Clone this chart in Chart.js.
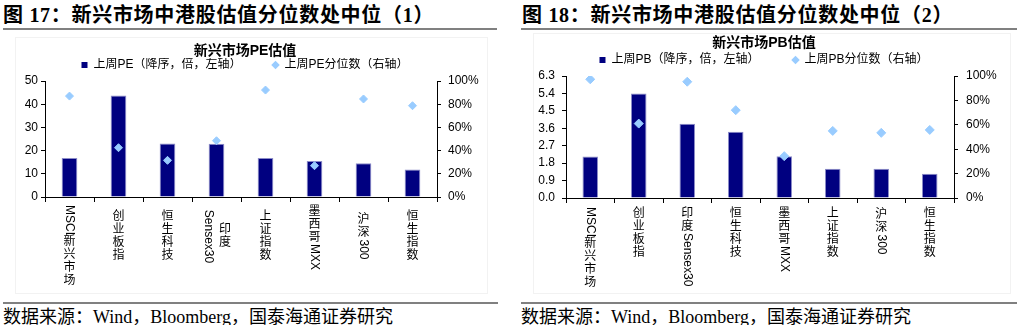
<!DOCTYPE html>
<html>
<head>
<meta charset="utf-8">
<script src="https://cdn.jsdelivr.net/npm/chart.js@4.4.1/dist/chart.umd.min.js"></script>
<style>
  body { margin: 0; width: 1017px; height: 325px; background: #fff; position: relative; overflow: hidden;
         font-family: "Liberation Serif", "Noto Sans CJK SC", serif; color: #000; }
  .hd { position: absolute; top: 2px; font-size: 20px; font-weight: bold; letter-spacing: 0.7px; white-space: nowrap; line-height: 26px; }
  .rule { position: absolute; height: 2px; background: #808080; }
  .src { position: absolute; top: 305px; font-size: 18px; white-space: nowrap; line-height: 24px; }
  .frame { position: absolute; border: 1px solid #f2f2f2; }
  canvas { position: absolute; }
</style>
</head>
<body>
<div class="hd" style="left:3px">图 17：新兴市场中港股估值分位数处中位（1）</div>
<div class="hd" style="left:522px">图 18：新兴市场中港股估值分位数处中位（2）</div>
<div class="rule" style="left:3px;width:494px;top:28px"></div>
<div class="rule" style="left:521px;width:496px;top:28px"></div>
<div class="frame" style="left:15px;top:37px;width:471px;height:255px"></div>
<div class="frame" style="left:533px;top:33px;width:476px;height:259px"></div>
<canvas id="peChart" width="480" height="258" style="left:5px;top:35px"></canvas>
<canvas id="pbChart" width="472" height="263" style="left:528px;top:30px"></canvas>
<div class="rule" style="left:3px;width:495px;top:302px"></div>
<div class="rule" style="left:521px;width:496px;top:302px"></div>
<div class="src" style="left:3px">数据来源：Wind，Bloomberg，国泰海通证券研究</div>
<div class="src" style="left:521px">数据来源：Wind，Bloomberg，国泰海通证券研究</div>

<script>
// PE chart (left)
const peLabels = ["MSCI新兴市场", "创业板指", "恒生科技", ["印度", "Sensex30"], "上证指数", "墨西哥MXX", "沪深300", "恒生指数"];
const peValues = [16.8, 43.7, 23.1, 23.0, 16.8, 15.5, 14.5, 11.9];
const pePct = [87.0, 42.5, 31.6, 48.5, 92.2, 27.0, 84.5, 78.7];
const peTicks = [0, 10, 20, 30, 40, 50];

// PB chart (right)
const pbLabels = ["MSCI新兴市场", "创业板指", "印度Sensex30", "恒生科技", "墨西哥MXX", "上证指数", "沪深300", "恒生指数"];
const pbValues = [2.14, 5.39, 3.83, 3.42, 2.16, 1.51, 1.51, 1.25];
const pbPct = [97.3, 61.0, 95.3, 72.0, 34.3, 55.0, 53.4, 55.8];
const pbTicks = [0, 0.9, 1.8, 2.7, 3.6, 4.5, 5.4, 6.3];

const pctTicks = [0, 20, 40, 60, 80, 100];

const FONT = '"Liberation Sans", "Noto Sans CJK SC", sans-serif';
const BAR_COLOR = "#000080";
const DOT_COLOR = "#99CCFF";

// vertical category labels: CJK upright, latin turned clockwise
const isCJK = (s) => /[\u3000-\u9fff\uff00-\uffef]/.test(s);
const verticalLabels = {
  id: "verticalLabels",
  afterDraw(chart, args, opts) {
    const ctx = chart.ctx;
    const xs = chart.scales.x;
    ctx.save();
    ctx.fillStyle = "#000";
    ctx.font = "12px " + FONT;
    chart.data.labels.forEach((label, i) => {
      const cols = Array.isArray(label) ? label : [label];
      const cx = xs.getPixelForValue(i);
      cols.forEach((col, j) => {
        const x = cx + ((cols.length - 1) * opts.colStep) / 2 - j * opts.colStep;
        const runs = col.match(/[\u3000-\u9fff\uff00-\uffef]+|[^\u3000-\u9fff\uff00-\uffef]+/g);
        let len = 0;
        runs.forEach((r) => {
          len += isCJK(r) ? r.length * opts.charStep : ctx.measureText(r).width;
        });
        let y = Math.max(xs.top + opts.gap, xs.top + opts.mid - len / 2);
        runs.forEach((r) => {
          if (isCJK(r)) {
            ctx.textAlign = "center";
            ctx.textBaseline = "middle";
            for (const ch of r) {
              ctx.fillText(ch, x, y + opts.charStep / 2);
              y += opts.charStep;
            }
          } else {
            ctx.save();
            ctx.translate(x, y);
            ctx.rotate(Math.PI / 2);
            ctx.textAlign = "left";
            ctx.textBaseline = "middle";
            ctx.fillText(r, 0, 0);
            ctx.restore();
            y += ctx.measureText(r).width;
          }
        });
      });
    });
    ctx.restore();
  },
};

function renderChart(canvasId, cfg) {
  const ctx = document.getElementById(canvasId).getContext("2d");

  return new Chart(ctx, {
    type: "bar",
    data: {
      labels: cfg.labels,
      datasets: [
        {
          label: cfg.barLabel,
          data: cfg.values,
          yAxisID: "y",
          order: 1,
          backgroundColor: BAR_COLOR,
          borderColor: "#8c8cc8",
          borderWidth: 1,
          borderSkipped: "bottom",
          categoryPercentage: 1,
          barPercentage: 0.32,
        },
        {
          type: "line",
          label: cfg.dotLabel,
          data: cfg.pct,
          yAxisID: "y1",
          order: 0,
          showLine: false,
          pointStyle: "rectRot",
          pointRadius: cfg.dotRadius,
          pointHoverRadius: cfg.dotRadius,
          pointBorderWidth: 1,
          backgroundColor: DOT_COLOR,
          borderColor: DOT_COLOR,
        },
      ],
    },
    options: {
      responsive: false,
      animation: false,
      layout: { padding: 0 },
      scales: {
        x: {
          offset: true,
          grid: { offset: true, drawOnChartArea: false, tickLength: 5, color: "#000" },
          border: { color: "#000" },
          ticks: { display: false },
          afterFit: (s) => { s.height = cfg.xHeight; },
        },
        y: {
          position: "left",
          min: cfg.ticks[0],
          max: cfg.ticks[cfg.ticks.length - 1],
          afterBuildTicks: (s) => { s.ticks = cfg.ticks.map((v) => ({ value: v })); },
          grid: { drawOnChartArea: false, tickLength: 4, color: "#000" },
          border: { color: "#000" },
          ticks: {
            padding: cfg.leftPad,
            color: "#000",
            font: { size: 12, family: FONT },
            callback: cfg.tickFmt,
          },
          afterFit: (s) => { s.width = cfg.leftWidth; },
        },
        y1: {
          position: "right",
          min: 0,
          max: 100,
          afterBuildTicks: (s) => { s.ticks = pctTicks.map((v) => ({ value: v })); },
          grid: { drawOnChartArea: false, tickLength: 4, color: "#000" },
          border: { color: "#000" },
          ticks: {
            padding: cfg.rightPad,
            color: "#000",
            font: { size: 12, family: FONT },
            callback: (v) => v + "%",
          },
          afterFit: (s) => { s.width = cfg.rightWidth; },
        },
      },
      plugins: {
        title: {
          display: true,
          text: cfg.title,
          color: "#000",
          font: { size: 14, weight: "bold", family: FONT, lineHeight: 1 },
          padding: cfg.titlePad,
        },
        legend: {
          position: "top",
          labels: {
            usePointStyle: true,
            boxWidth: 6,
            boxHeight: 6,
            padding: cfg.legendPad,
            color: "#000",
            font: { size: 12, family: FONT },
            generateLabels: (chart) => {
              const items = Chart.defaults.plugins.legend.labels.generateLabels(chart);
              items.sort((a, b) => a.datasetIndex - b.datasetIndex);
              return items.map((l, i) => {
                if (i === 0) {
                  // gap between the two legend entries
                  return { ...l, text: l.text + "\u3000\u3000\u3000", pointStyle: "rect", lineWidth: 0 };
                }
                return { ...l, pointStyle: "rectRot", lineWidth: 0 };
              });
            },
          },
        },
        tooltip: { enabled: false },
        verticalLabels: cfg.xLabels,
      },
    },
    plugins: [verticalLabels],
  });
}

renderChart("peChart", {
  labels: peLabels,
  values: peValues,
  pct: pePct,
  ticks: peTicks,
  title: "新兴市场PE估值",
  barLabel: "上周PE（降序，倍，左轴）",
  dotLabel: "上周PE分位数（右轴）",
  dotRadius: 4,
  tickFmt: (v) => v,
  leftPad: 3,
  rightPad: 7,
  leftWidth: 40,
  rightWidth: 48,
  xHeight: 96,
  titlePad: { top: 9, bottom: 0 },
  legendPad: 1,
  xLabels: { colStep: 17, charStep: 13, gap: 8, mid: 39.5 },
});

renderChart("pbChart", {
  labels: pbLabels,
  values: pbValues,
  pct: pbPct,
  ticks: pbTicks,
  title: "新兴市场PB估值",
  barLabel: "上周PB（降序，倍，左轴）",
  dotLabel: "上周PB分位数（右轴）",
  dotRadius: 4.5,
  tickFmt: (v) => Number(v).toFixed(1),
  leftPad: 7,
  rightPad: 8,
  leftWidth: 38,
  rightWidth: 46,
  xHeight: 95,
  titlePad: { top: 6, bottom: 1 },
  legendPad: 3,
  xLabels: { colStep: 17, charStep: 13, gap: 9, mid: 33.5 },
});
</script>
</body>
</html>
